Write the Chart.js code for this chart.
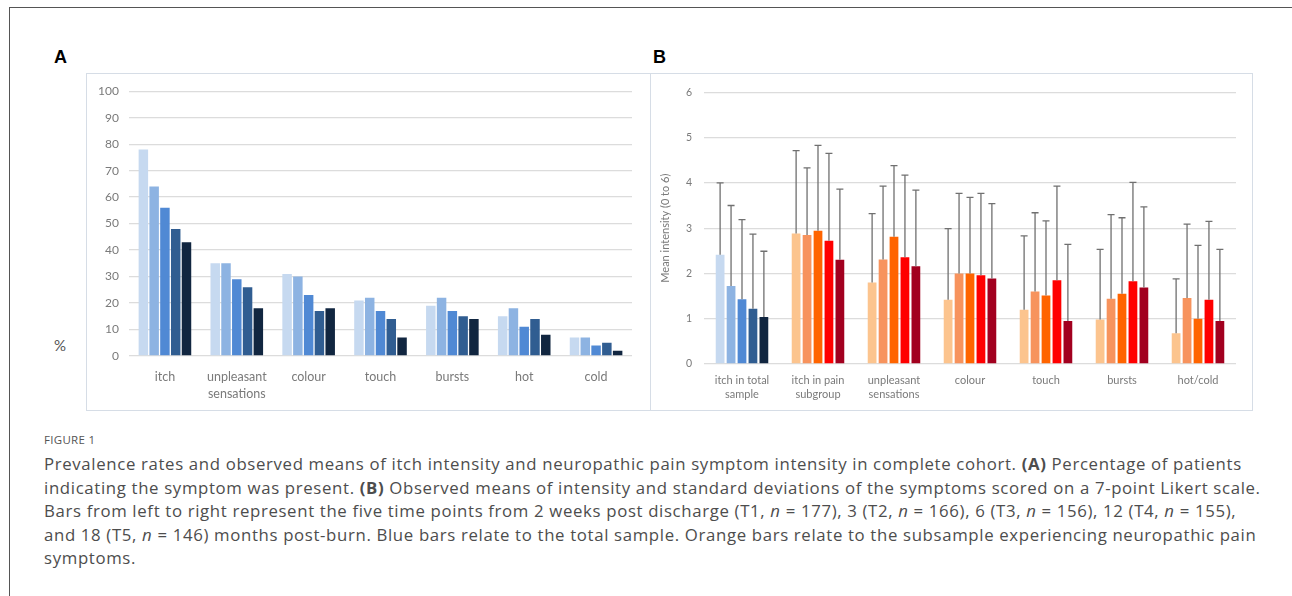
<!DOCTYPE html>
<html>
<head>
<meta charset="utf-8">
<script src="https://cdn.jsdelivr.net/npm/chart.js@4"></script>
<style>
  body { margin: 0; width: 1292px; height: 596px; background: #fff; position: relative; overflow: hidden; font-family: "Open Sans", sans-serif; }
  .frame { position: absolute; left: 9px; top: 7px; width: 1300px; height: 600px; border-left: 1.5px solid #555; border-top: 1.5px solid #555; }
  .panel { position: absolute; top: 73px; height: 336px; border: 1px solid #d6dde6; }
  .letter { position: absolute; font-family: "Liberation Sans", Arial, sans-serif; font-weight: bold; font-size: 18px; color: #000; }
  .pct { position: absolute; left: 54px; top: 336px; font-family: Lato, sans-serif; font-size: 15px; color: #555; }
  .figlabel { position: absolute; left: 44px; top: 432px; font-size: 11.5px; color: #555; letter-spacing: 0.3px; }
  .caption { position: absolute; left: 44px; top: 452px; font-size: 16.8px; line-height: 23.6px; letter-spacing: 0.65px; color: #4d4d4d; white-space: nowrap; }
  canvas { position: absolute; }
</style>
</head>
<body>
<div class="frame"></div>
<div class="letter" style="left:54px; top:47px;">A</div>
<div class="letter" style="left:653px; top:47px;">B</div>
<div class="panel" style="left:86px; width:563px;"></div>
<div class="panel" style="left:650px; width:601px;"></div>
<div class="pct">%</div>
<canvas id="chartA" width="562" height="334" style="left:87px; top:74px;"></canvas>
<canvas id="chartB" width="598" height="334" style="left:652px; top:74px;"></canvas>
<div class="figlabel">FIGURE 1</div>
<div class="caption">
Prevalence rates and observed means of itch intensity and neuropathic pain symptom intensity in complete cohort. <b>(A)</b> Percentage of patients<br>
indicating the symptom was present. <b>(B)</b> Observed means of intensity and standard deviations of the symptoms scored on a 7-point Likert scale.<br>
Bars from left to right represent the five time points from 2 weeks post discharge (T1, <i>n</i> = 177), 3 (T2, <i>n</i> = 166), 6 (T3, <i>n</i> = 156), 12 (T4, <i>n</i> = 155),<br>
and 18 (T5, <i>n</i> = 146) months post-burn. Blue bars relate to the total sample. Orange bars relate to the subsample experiencing neuropathic pain<br>
symptoms.
</div>

<script>
// time points
const timePoints = ["T1", "T2", "T3", "T4", "T5"];

// panel A: % of patients with symptom
const categoriesA = ["itch", ["unpleasant", "sensations"], "colour", "touch", "bursts", "hot", "cold"];
const prevT1 = [78, 35, 31, 21, 19, 15, 7];
const prevT2 = [64, 35, 30, 22, 22, 18, 7];
const prevT3 = [56, 29, 23, 17, 17, 11, 4];
const prevT4 = [48, 26, 17, 14, 15, 14, 5];
const prevT5 = [43, 18, 18, 7, 14, 8, 2];
const ticksA = [0, 10, 20, 30, 40, 50, 60, 70, 80, 90, 100];

// panel B: mean intensity (0-6) and SD
const categoriesB = [["itch in total", "sample"], ["itch in pain", "subgroup"], ["unpleasant", "sensations"], "colour", "touch", "bursts", "hot/cold"];
const meanT1 = [2.41, 2.88, 1.80, 1.42, 1.20, 0.98, 0.68];
const meanT2 = [1.72, 2.85, 2.31, 2.00, 1.60, 1.44, 1.46];
const meanT3 = [1.43, 2.94, 2.81, 2.00, 1.51, 1.55, 1.00];
const meanT4 = [1.22, 2.72, 2.36, 1.96, 1.85, 1.83, 1.42];
const meanT5 = [1.04, 2.30, 2.16, 1.89, 0.95, 1.69, 0.95];
const sdT1 = [1.59, 1.83, 1.52, 1.57, 1.63, 1.55, 1.20];
const sdT2 = [1.78, 1.48, 1.62, 1.77, 1.74, 1.86, 1.63];
const sdT3 = [1.76, 1.89, 1.57, 1.68, 1.65, 1.68, 1.62];
const sdT4 = [1.65, 1.93, 1.81, 1.81, 2.08, 2.18, 1.73];
const sdT5 = [1.45, 1.56, 1.68, 1.65, 1.69, 1.78, 1.58];
const ticksB = [0, 1, 2, 3, 4, 5, 6];

const blues = ["#c6d9f0", "#8db3e2", "#5089d4", "#305d91", "#112640"];
const oranges = ["#fcc48e", "#f7935d", "#ff6400", "#ff0000", "#a2001f"];

const gridColor = "#dcdcdc";
const tickColor = "#7a7a7a";

const prevData = [prevT1, prevT2, prevT3, prevT4, prevT5];
const meanData = [meanT1, meanT2, meanT3, meanT4, meanT5];
const sdData = [sdT1, sdT2, sdT3, sdT4, sdT5];

new Chart(document.getElementById("chartA"), {
    type: "bar",
    data: {
        labels: categoriesA,
        datasets: timePoints.map(function (t, i) {
            return { label: t, data: prevData[i], backgroundColor: blues[i], categoryPercentage: 0.75, barPercentage: 0.88 };
        }),
    },
    options: {
        responsive: false,
        animation: false,
        layout: { padding: { left: 0, right: 17, top: 16, bottom: 0 } },
        plugins: { legend: { display: false }, tooltip: { enabled: false } },
        scales: {
            x: {
                grid: { display: false },
                border: { display: false },
                ticks: { color: tickColor, font: { family: "Lato", size: 12.5, lineHeight: 1.35 }, padding: 5, maxRotation: 0 },
                afterFit: function (s) { s.height = 52; },
            },
            y: {
                min: 0, max: 100,
                afterBuildTicks: function (s) { s.ticks = ticksA.map(function (v) { return { value: v }; }); },
                grid: { color: gridColor, lineWidth: 1.3, drawTicks: false },
                border: { display: false },
                ticks: { color: tickColor, font: { family: "Lato", size: 12 }, padding: 10 },
                afterFit: function (s) { s.width = 42; },
            },
        },
    },
});

const errorBars = {
    id: "errorBars",
    afterDatasetsDraw: function (chart) {
        const ctx = chart.ctx;
        const y = chart.scales.y;
        ctx.save();
        ctx.strokeStyle = "#707070";
        ctx.lineWidth = 1.3;
        chart.data.datasets.forEach(function (ds, i) {
            const meta = chart.getDatasetMeta(i);
            meta.data.forEach(function (bar, j) {
                const top = y.getPixelForValue(ds.data[j] + sdData[i][j]);
                const base = y.getPixelForValue(ds.data[j]);
                ctx.beginPath();
                ctx.moveTo(bar.x, base);
                ctx.lineTo(bar.x, top);
                ctx.moveTo(bar.x - 3.5, top);
                ctx.lineTo(bar.x + 3.5, top);
                ctx.stroke();
            });
        });
        ctx.restore();
    },
};

new Chart(document.getElementById("chartB"), {
    type: "bar",
    data: {
        labels: categoriesB,
        datasets: timePoints.map(function (t, i) {
            return {
                label: t,
                data: meanData[i],
                backgroundColor: categoriesB.map(function (_, j) { return j === 0 ? blues[i] : oranges[i]; }),
                categoryPercentage: 0.72,
                barPercentage: 0.8,
            };
        }),
    },
    options: {
        responsive: false,
        animation: false,
        layout: { padding: { left: 7, right: 14, top: 14, bottom: 0 } },
        plugins: { legend: { display: false }, tooltip: { enabled: false } },
        scales: {
            x: {
                grid: { display: false },
                border: { display: false },
                ticks: { color: tickColor, font: { family: "Lato", size: 11, lineHeight: 1.3 }, padding: 1, maxRotation: 0 },
                afterFit: function (s) { s.height = 44; },
            },
            y: {
                min: 0, max: 6,
                afterBuildTicks: function (s) { s.ticks = ticksB.map(function (v) { return { value: v }; }); },
                grid: { color: gridColor, lineWidth: 1.3, drawTicks: false },
                border: { display: false },
                title: { display: true, text: "Mean intensity (0 to 6)", color: tickColor, font: { family: "Lato", size: 11 }, padding: { top: 0, bottom: 4 } },
                ticks: { color: tickColor, font: { family: "Lato", size: 10.5 }, padding: 12 },
                afterFit: function (s) { s.width = 45; },
            },
        },
    },
    plugins: [errorBars],
});
</script>
</body>
</html>
